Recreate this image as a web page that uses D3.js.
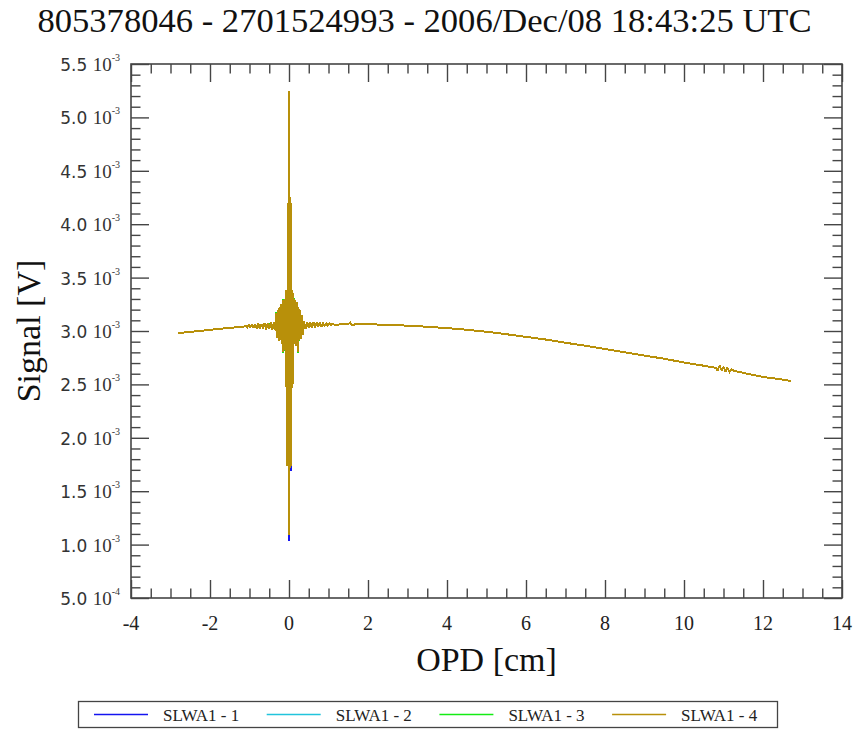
<!DOCTYPE html>
<html><head><meta charset="utf-8">
<script src="https://cdn.jsdelivr.net/npm/d3@7"></script>
<style>
body{margin:0;background:#fff}svg{display:block}
.serif{font-family:'Liberation Serif','Times New Roman',Times,serif}
.sans{font-family:'DejaVu Sans',sans-serif}
</style>
</head><body><svg id="c" width="856" height="729"></svg>
<script>
// ---------- data ----------
const titleText = "805378046 - 2701524993 - 2006/Dec/08 18:43:25 UTC";
const xLabel = "OPD [cm]";
const yLabel = "Signal [V]";
const seriesNames = ["SLWA1 - 1", "SLWA1 - 2", "SLWA1 - 3", "SLWA1 - 4"];
const seriesColors = ["#1414f0", "#22c4dc", "#14ec14", "#b8900a"];

const xTickValues = [-4, -2, 0, 2, 4, 6, 8, 10, 12, 14];
const yTickValues = [0.5, 1.0, 1.5, 2.0, 2.5, 3.0, 3.5, 4.0, 4.5, 5.0, 5.5]; // units of 1e-3 V
const yTickMantissa = ["5.0", "1.0", "1.5", "2.0", "2.5", "3.0", "3.5", "4.0", "4.5", "5.0", "5.5"];
const yTickExponent = ["-4", "-3", "-3", "-3", "-3", "-3", "-3", "-3", "-3", "-3", "-3"];

// slow baseline drift, shared by all four detectors (signal in 1e-3 V)
const opdLeft = [-2.8, -2.5, -2.2, -1.9, -1.6, -1.3, -1.14];
const sigLeft = [2.980, 2.992, 3.003, 3.015, 3.026, 3.036, 3.042];

const opdRight = [1.2, 1.5, 1.55, 1.6, 1.7, 2.0, 2.5, 3.0, 3.5, 4.0, 4.5, 5.0, 5.5, 6.0, 6.5, 7.0, 7.5, 8.0, 8.5, 9.0, 9.5, 10.0, 10.5,
  10.8, 10.85, 10.9, 10.95, 11.0, 11.05, 11.1, 11.15, 11.2, 11.3, 11.4, 11.6, 12.0, 12.4, 12.7];
const sigRight = [3.060, 3.064, 3.078, 3.056, 3.064, 3.063, 3.058, 3.050, 3.040, 3.027, 3.012, 2.993, 2.970, 2.945, 2.920, 2.890, 2.862, 2.832, 2.800, 2.770, 2.740, 2.705, 2.675,
  2.655, 2.628, 2.676, 2.632, 2.665, 2.620, 2.655, 2.616, 2.640, 2.622, 2.618, 2.600, 2.570, 2.550, 2.533];

// interferogram burst around zero path difference
const opdBurst = [-1.10, -1.06, -1.02, -0.98, -0.94, -0.90, -0.86, -0.82, -0.78, -0.74, -0.70, -0.66, -0.62, -0.58, -0.54, -0.50, -0.46, -0.42, -0.38, -0.34,
  -0.32, -0.30, -0.28, -0.26, -0.24, -0.22, -0.20, -0.18, -0.16, -0.14, -0.12, -0.10,
  -0.09, -0.08, -0.07, -0.06, -0.05, -0.04, -0.03, -0.02, -0.01, 0.00, 0.005, 0.01, 0.02, 0.03, 0.04, 0.05, 0.06, 0.07, 0.08, 0.09, 0.10,
  0.12, 0.14, 0.16, 0.18, 0.20, 0.22, 0.24, 0.26, 0.28, 0.30, 0.32, 0.34,
  0.38, 0.42, 0.46, 0.50, 0.54, 0.58, 0.62, 0.66, 0.70, 0.74, 0.78, 0.82, 0.86, 0.90, 0.94, 0.98, 1.02, 1.06, 1.10, 1.14];

const sigBurst1 = [3.050, 3.035, 3.060, 3.030, 3.065, 3.028, 3.062, 3.025, 3.070, 3.020, 3.066, 3.024, 3.075, 3.015, 3.072, 3.018, 3.080, 3.010, 3.086, 3.004,
  3.170, 2.935, 3.200, 2.905, 3.225, 2.920, 3.250, 2.880, 3.290, 2.800, 3.270, 2.860,
  3.300, 2.480, 3.380, 2.450, 3.380, 1.740, 3.400, 4.200, 1.720, 4.240, 1.030, 5.200, 1.720, 4.220, 1.690, 4.200, 2.460, 3.380, 2.470, 3.360, 2.500,
  3.300, 2.880, 3.290, 2.860, 3.270, 2.800, 3.220, 2.920, 3.200, 2.930, 3.150, 2.960,
  3.090, 3.020, 3.085, 3.030, 3.080, 3.030, 3.085, 3.035, 3.080, 3.040, 3.085, 3.040, 3.080, 3.045, 3.075, 3.050, 3.070, 3.055, 3.065, 3.060];
const sigBurst2 = [3.050, 3.036, 3.060, 3.031, 3.064, 3.028, 3.062, 3.026, 3.070, 3.021, 3.066, 3.024, 3.074, 3.016, 3.072, 3.018, 3.080, 3.011, 3.085, 3.005,
  3.170, 2.936, 3.200, 2.906, 3.224, 2.920, 3.250, 2.881, 3.290, 2.801, 3.270, 2.860,
  3.300, 2.480, 3.380, 2.450, 3.380, 1.740, 3.400, 4.200, 1.720, 4.240, 1.100, 5.200, 1.720, 4.220, 1.740, 4.200, 2.460, 3.380, 2.470, 3.360, 2.500,
  3.300, 2.880, 3.290, 2.860, 3.270, 2.800, 3.220, 2.920, 3.200, 2.930, 3.150, 2.960,
  3.090, 3.020, 3.085, 3.030, 3.080, 3.030, 3.085, 3.035, 3.080, 3.040, 3.085, 3.040, 3.080, 3.045, 3.075, 3.050, 3.070, 3.055, 3.065, 3.060];
const sigBurst3 = [3.050, 3.035, 3.060, 3.030, 3.065, 3.028, 3.062, 3.025, 3.072, 3.020, 3.066, 3.024, 3.075, 3.015, 3.072, 3.018, 3.082, 3.010, 3.086, 3.004,
  3.180, 2.935, 3.200, 2.905, 3.225, 2.912, 3.250, 2.880, 3.300, 2.790, 3.270, 2.860,
  3.300, 2.480, 3.380, 2.450, 3.380, 1.740, 3.400, 4.200, 1.720, 4.240, 1.100, 5.200, 1.720, 4.220, 1.740, 4.200, 2.460, 3.380, 2.470, 3.360, 2.500,
  3.310, 2.880, 3.290, 2.860, 3.270, 2.790, 3.220, 2.910, 3.200, 2.930, 3.150, 2.960,
  3.092, 3.020, 3.085, 3.030, 3.082, 3.030, 3.085, 3.035, 3.080, 3.040, 3.085, 3.040, 3.080, 3.045, 3.075, 3.050, 3.070, 3.055, 3.065, 3.060];
const sigBurst4 = [3.050, 3.035, 3.060, 3.030, 3.065, 3.028, 3.062, 3.025, 3.070, 3.020, 3.066, 3.024, 3.075, 3.015, 3.072, 3.018, 3.080, 3.010, 3.086, 3.004,
  3.170, 2.935, 3.200, 2.905, 3.225, 2.920, 3.250, 2.880, 3.290, 2.800, 3.270, 2.860,
  3.300, 2.480, 3.380, 2.450, 3.380, 1.740, 3.400, 4.200, 1.720, 4.240, 1.090, 5.250, 1.720, 4.220, 1.740, 4.200, 2.460, 3.380, 2.470, 3.360, 2.500,
  3.300, 2.880, 3.290, 2.860, 3.270, 2.800, 3.220, 2.920, 3.200, 2.930, 3.150, 2.960,
  3.090, 3.020, 3.085, 3.030, 3.080, 3.030, 3.085, 3.035, 3.080, 3.040, 3.085, 3.040, 3.080, 3.045, 3.075, 3.050, 3.070, 3.055, 3.065, 3.060];
const burstSeries = [sigBurst1, sigBurst2, sigBurst3, sigBurst4];

// ---------- chart ----------
const svg = d3.select("#c");
const L = 131, R = 842, T = 64, B = 598;
const x = d3.scaleLinear().domain([-4, 14]).range([L, R]);
const y = d3.scaleLinear().domain([0.5, 5.5]).range([B, T]);

const zip = (xs, ys) => xs.map((v, i) => [v, ys[i]]);
const seriesData = burstSeries.map(b => zip(opdLeft, sigLeft).concat(zip(opdBurst, b), zip(opdRight, sigRight)));

const line = d3.line().x(d => x(d[0])).y(d => y(d[1]));
const plot = svg.append("g");
seriesData.forEach((d, i) => {
  plot.append("path").datum(d).attr("d", line)
    .attr("fill", "none").attr("stroke", seriesColors[i])
    .attr("stroke-width", 2).attr("stroke-linejoin", "miter").attr("stroke-miterlimit", 2)
    .attr("shape-rendering", "crispEdges");
});

// frame + ticks
const axisColor = "#454545";
const xMinor = d3.range(-4, 14.001, 0.5).filter(v => !xTickValues.includes(v));
const yMinor = d3.range(0.5, 5.5001, 0.1).map(v => +v.toFixed(2)).filter(v => !yTickValues.some(t => Math.abs(t - v) < 1e-6));

function styleAxis(g) {
  g.select(".domain").remove();
  g.selectAll("line").attr("stroke", axisColor).attr("stroke-width", 1.4);
  g.selectAll("text").remove();
}
const MJ = 18, MN = 9.5;
svg.append("g").attr("transform", `translate(0,${B})`).call(d3.axisBottom(x).tickValues(xTickValues).tickSize(-MJ)).call(styleAxis);
svg.append("g").attr("transform", `translate(0,${B})`).call(d3.axisBottom(x).tickValues(xMinor).tickSize(-MN)).call(styleAxis);
svg.append("g").attr("transform", `translate(0,${T})`).call(d3.axisTop(x).tickValues(xTickValues).tickSize(-MJ)).call(styleAxis);
svg.append("g").attr("transform", `translate(0,${T})`).call(d3.axisTop(x).tickValues(xMinor).tickSize(-MN)).call(styleAxis);
svg.append("g").attr("transform", `translate(${L},0)`).call(d3.axisLeft(y).tickValues(yTickValues).tickSize(-MJ)).call(styleAxis);
svg.append("g").attr("transform", `translate(${L},0)`).call(d3.axisLeft(y).tickValues(yMinor).tickSize(-MN)).call(styleAxis);
svg.append("g").attr("transform", `translate(${R},0)`).call(d3.axisRight(y).tickValues(yTickValues).tickSize(-MJ)).call(styleAxis);
svg.append("g").attr("transform", `translate(${R},0)`).call(d3.axisRight(y).tickValues(yMinor).tickSize(-MN)).call(styleAxis);
svg.append("rect").attr("x", L).attr("y", T).attr("width", R - L).attr("height", B - T)
  .attr("fill", "none").attr("stroke", axisColor).attr("stroke-width", 1.6);

// x tick labels
svg.append("g").selectAll("text").data(xTickValues).join("text")
  .attr("class", "serif")
  .attr("x", d => x(d)).attr("y", B + 32).attr("text-anchor", "middle")
  .attr("font-size", 20).attr("fill", "#222")
  .text(d => d);

// y tick labels: mantissa 10^exp
const yl = svg.append("g").selectAll("text").data(yTickValues).join("text")
  .attr("x", L - 11).attr("y", d => y(d) + 7).attr("text-anchor", "end").attr("fill", "#333");
yl.append("tspan").attr("class", "sans").attr("font-size", 17).text((d, i) => yTickMantissa[i] + " ");
yl.append("tspan").attr("class", "serif").attr("font-size", 19).text("10");
yl.append("tspan").attr("class", "serif").attr("font-size", 10).attr("dy", -10).text((d, i) => yTickExponent[i]);

// titles
svg.append("text").attr("class", "serif").attr("x", 424.5).attr("y", 32).attr("text-anchor", "middle")
  .attr("font-size", 34.6).attr("fill", "#111").text(titleText);
svg.append("text").attr("class", "serif").attr("x", (L + R) / 2).attr("y", 671).attr("text-anchor", "middle")
  .attr("font-size", 34).attr("fill", "#111").text(xLabel);
svg.append("text").attr("class", "serif").attr("transform", `translate(40,${(T + B) / 2}) rotate(-90)`).attr("text-anchor", "middle")
  .attr("font-size", 34).attr("fill", "#111").text(yLabel);

// legend
const lg = svg.append("g");
lg.append("rect").attr("x", 78.5).attr("y", 701.5).attr("width", 699).attr("height", 26)
  .attr("fill", "#fff").attr("stroke", "#444").attr("stroke-width", 1.3);
seriesNames.forEach((n, i) => {
  const x0 = 94 + i * 172.7;
  lg.append("line").attr("x1", x0).attr("x2", x0 + 54).attr("y1", 714.5).attr("y2", 714.5)
    .attr("stroke", seriesColors[i]).attr("stroke-width", 1.6);
  lg.append("text").attr("class", "serif").attr("x", x0 + 69).attr("y", 720.5)
    .attr("font-size", 17).attr("fill", "#222").text(n);
});
</script></body></html>
